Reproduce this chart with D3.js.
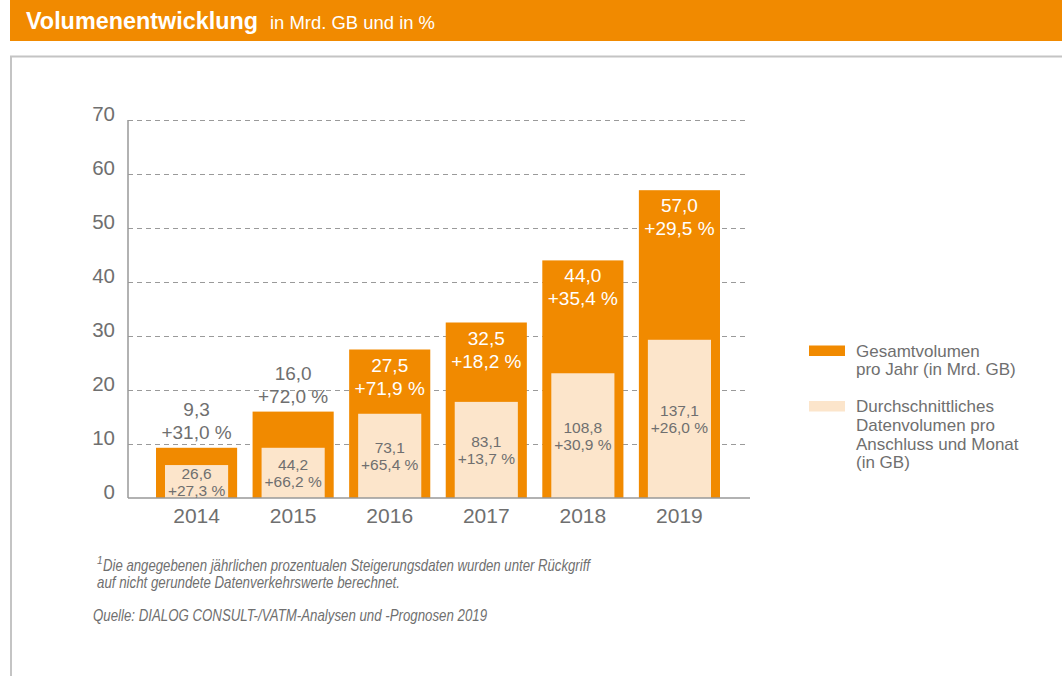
<!DOCTYPE html>
<html>
<head>
<meta charset="utf-8">
<script src="https://cdn.jsdelivr.net/npm/d3@7"></script>
<style>
  body { margin: 0; background: #fff; }
  svg { display: block; font-family: "Liberation Sans", Arial, sans-serif; }
</style>
</head>
<body>
<svg width="1062" height="676"></svg>
<script>
const years = ["2014", "2015", "2016", "2017", "2018", "2019"];
const totalVolume = [9.3, 16.0, 27.5, 32.5, 44.0, 57.0];
const totalGrowth = ["+31,0 %", "+72,0 %", "+71,9 %", "+18,2 %", "+35,4 %", "+29,5 %"];
// inner bars are drawn at their own height in axis units
const avgBarHeight = [6.1, 9.3, 15.6, 17.8, 23.1, 29.3];
const avgVolume = ["26,6", "44,2", "73,1", "83,1", "108,8", "137,1"];
const avgGrowth = ["+27,3 %", "+66,2 %", "+65,4 %", "+13,7 %", "+30,9 %", "+26,0 %"];
const legendItems = [
  { key: "total", lines: ["Gesamtvolumen", "pro Jahr (in Mrd. GB)"] },
  { key: "avg", lines: ["Durchschnittliches", "Datenvolumen pro", "Anschluss und Monat", "(in GB)"] }
];
const footnoteLines = [
  "Die angegebenen jährlichen prozentualen Steigerungsdaten wurden unter Rückgriff",
  "auf nicht gerundete Datenverkehrswerte berechnet."
];
const sourceLine = "Quelle: DIALOG CONSULT-/VATM-Analysen und -Prognosen 2019";

const ORANGE = "#f18a00";
const LIGHT = "#fce5cb";
const GREY = "#6f6f6f";

const svg = d3.select("svg");

// header bar
svg.append("rect")
  .attr("x", 10).attr("y", 0)
  .attr("width", 1052).attr("height", 41)
  .attr("fill", ORANGE);

svg.append("text")
  .attr("x", 26).attr("y", 29)
  .attr("fill", "#fff")
  .attr("font-size", 23).attr("font-weight", "bold")
  .attr("textLength", 232)
  .attr("lengthAdjust", "spacingAndGlyphs")
  .text("Volumenentwicklung");

svg.append("text")
  .attr("x", 270).attr("y", 29)
  .attr("fill", "#fff")
  .attr("font-size", 18.5)
  .attr("textLength", 165)
  .attr("lengthAdjust", "spacingAndGlyphs")
  .text("in Mrd. GB und in %");

// frame
svg.append("path")
  .attr("d", "M11,676 V56.5 H1062")
  .attr("fill", "none")
  .attr("stroke", "#c4c4c4")
  .attr("stroke-width", 2);

const x = d3.scaleBand()
  .domain(years)
  .range([128, 748])
  .paddingInner(0.16)
  .paddingOuter(0.29);

const y = d3.scaleLinear()
  .domain([0, 70])
  .range([498, 120]);

// grid + y labels
const yAxis = svg.append("g")
  .attr("transform", "translate(128,0)")
  .call(d3.axisLeft(y).ticks(7).tickSize(-620).tickFormat(d3.format("d")));

yAxis.select(".domain").remove();
yAxis.selectAll(".tick line")
  .attr("stroke", "#9a9a9a")
  .attr("stroke-dasharray", "5,4")
  .attr("stroke-width", 1);
yAxis.selectAll(".tick")
  .filter(d => d === 0)
  .select("line").remove();
yAxis.selectAll(".tick text")
  .attr("x", -13)
  .attr("dy", "0")
  .attr("fill", GREY)
  .attr("font-size", 20.5)
  .attr("font-family", null);

// bars
const bars = svg.append("g");

bars.selectAll("rect.total")
  .data(years)
  .join("rect")
  .attr("class", "total")
  .attr("x", d => x(d))
  .attr("width", x.bandwidth())
  .attr("y", (d, i) => y(totalVolume[i]))
  .attr("height", (d, i) => y(0) - y(totalVolume[i]))
  .attr("fill", ORANGE);

bars.selectAll("rect.avg")
  .data(years)
  .join("rect")
  .attr("class", "avg")
  .attr("x", d => x(d) + 9)
  .attr("width", x.bandwidth() - 18)
  .attr("y", (d, i) => y(avgBarHeight[i]))
  .attr("height", (d, i) => y(0) - y(avgBarHeight[i]))
  .attr("fill", LIGHT);

// axis lines
svg.append("line")
  .attr("x1", 128).attr("x2", 128)
  .attr("y1", y(70)).attr("y2", y(0))
  .attr("stroke", "#999").attr("stroke-width", 1.5);

const xAxis = svg.append("g")
  .attr("transform", `translate(0,${y(0)})`)
  .call(d3.axisBottom(x).tickSize(0));
xAxis.select(".domain")
  .attr("d", "M128,0H750")
  .attr("stroke", "#999")
  .attr("stroke-width", 1.5);
xAxis.selectAll(".tick text")
  .attr("y", 25)
  .attr("dy", "0")
  .attr("fill", GREY)
  .attr("font-size", 21)
  .attr("font-family", null);

// total labels: outside above short bars, inside tall bars
const totalLabels = svg.append("g")
  .attr("text-anchor", "middle")
  .attr("font-size", 19);

years.forEach((yr, i) => {
  const cx = x(yr) + x.bandwidth() / 2;
  const top = y(totalVolume[i]);
  const inside = totalVolume[i] > 20;
  const y1 = inside ? top + 22 : top - 32;
  const t = totalLabels.append("text")
    .attr("fill", inside ? "#fff" : GREY);
  t.append("tspan").attr("x", cx).attr("y", y1)
    .text(d3.format(".1f")(totalVolume[i]).replace(".", ","));
  t.append("tspan").attr("x", cx).attr("y", y1 + 23)
    .text(totalGrowth[i]);
});

// average labels, centred in inner bars
const avgLabels = svg.append("g")
  .attr("text-anchor", "middle")
  .attr("font-size", 15.5)
  .attr("fill", GREY);

years.forEach((yr, i) => {
  const cx = x(yr) + x.bandwidth() / 2;
  const mid = (y(avgBarHeight[i]) + y(0)) / 2;
  const t = avgLabels.append("text");
  t.append("tspan").attr("x", cx).attr("y", mid - 3).text(avgVolume[i]);
  t.append("tspan").attr("x", cx).attr("y", mid + 14).text(avgGrowth[i]);
});

// legend
const legend = svg.append("g")
  .attr("font-size", 17)
  .attr("fill", GREY);

const legendTop = [345.5, 401];
legendItems.forEach((item, i) => {
  legend.append("rect")
    .attr("x", 809).attr("y", legendTop[i])
    .attr("width", 36).attr("height", 10.5)
    .attr("fill", item.key === "total" ? ORANGE : LIGHT);
  const t = legend.append("text");
  item.lines.forEach((line, j) => {
    t.append("tspan")
      .attr("x", 856)
      .attr("y", legendTop[i] + 11 + j * 18.8)
      .text(line);
  });
});

// footnote
const notes = svg.append("g")
  .attr("font-style", "italic")
  .attr("font-size", 16.5)
  .attr("fill", GREY);

notes.append("text")
  .attr("x", 97).attr("y", 564)
  .attr("font-size", 10)
  .text("1");

const noteX = [103, 97];
const noteY = [571, 588];
const noteW = [487, 303];
footnoteLines.forEach((line, i) => {
  notes.append("text")
    .attr("x", noteX[i]).attr("y", noteY[i])
    .attr("textLength", noteW[i])
    .attr("lengthAdjust", "spacingAndGlyphs")
    .text(line);
});

notes.append("text")
  .attr("x", 93).attr("y", 621)
  .attr("textLength", 394)
  .attr("lengthAdjust", "spacingAndGlyphs")
  .text(sourceLine);
</script>
</body>
</html>
